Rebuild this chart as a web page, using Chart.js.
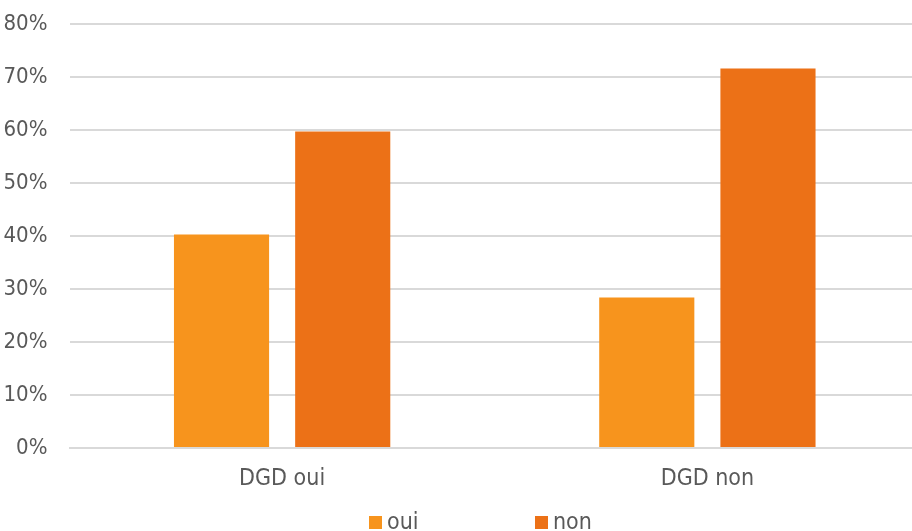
<!DOCTYPE html>
<html lang="fr">
<head>
<meta charset="utf-8">
<title>DGD</title>
<script src="https://cdn.jsdelivr.net/npm/chart.js@4.4.1/dist/chart.umd.min.js"></script>
<style>
  html, body { margin: 0; padding: 0; background: #ffffff; overflow: hidden; }
  #wrap { position: relative; width: 920px; height: 531px; }
</style>
</head>
<body>
<div id="wrap"><canvas id="chart"></canvas></div>
<script>
// Groups on the x axis
const categories = ['DGD oui', 'DGD non'];
// Share of answers per group (percent)
const ouiValues = [40.3, 28.4];
const nonValues = [59.7, 71.6];
// Series names and y-axis ticks
const seriesNames = ['oui', 'non'];
const yTicks = [0, 10, 20, 30, 40, 50, 60, 70, 80];

const FONT = '"DejaVu Sans Condensed", "DejaVu Sans", sans-serif';
const TEXT = '#595959';
const COLORS = ['#F7941D', '#EC7117'];

// Legend drawn under the axis, one square + label per dataset
const bottomLegend = {
  id: 'bottomLegend',
  afterDraw(chart, args, opts) {
    const ctx = chart.ctx;
    ctx.save();
    ctx.font = '23px ' + FONT;
    ctx.textBaseline = 'middle';
    ctx.textAlign = 'left';
    chart.data.datasets.forEach((ds, i) => {
      const x = opts.starts[i];
      ctx.fillStyle = ds.backgroundColor;
      ctx.fillRect(x, opts.y - opts.box / 2, opts.box, opts.box);
      ctx.fillStyle = TEXT;
      ctx.fillText(ds.label, x + opts.box + 5, opts.y + 1);
    });
    ctx.restore();
  }
};

new Chart(document.getElementById('chart'), {
  type: 'bar',
  data: {
    labels: categories,
    datasets: [
      { label: seriesNames[0], data: ouiValues, backgroundColor: COLORS[0] },
      { label: seriesNames[1], data: nonValues, backgroundColor: COLORS[1] }
    ]
  },
  options: {
    responsive: true,
    maintainAspectRatio: false,
    animation: false,
    events: [],
    layout: { padding: { top: 24, left: 0, right: 0, bottom: 0 } },
    categoryPercentage: 0.57,
    barPercentage: 0.785,
    plugins: {
      legend: { display: false },
      tooltip: { enabled: false },
      bottomLegend: { starts: [369, 535], y: 522.5, box: 13 }
    },
    scales: {
      x: {
        grid: { display: false, drawTicks: false },
        border: { color: '#D9D9D9', width: 2 },
        ticks: { color: TEXT, font: { family: FONT, size: 23 }, padding: 17 },
        afterFit(scale) { scale.height = 83; }
      },
      y: {
        min: 0,
        max: 80,
        afterBuildTicks(scale) { scale.ticks = yTicks.map(v => ({ value: v })); },
        grid: { color: '#D9D9D9', lineWidth: 2, drawTicks: false },
        border: { display: false },
        ticks: {
          color: TEXT,
          font: { family: FONT, size: 22 },
          padding: 22,
          callback: v => v + '%'
        },
        afterFit(scale) {
          scale.width = 69.5;
          scale.paddingTop = 0;
          scale.paddingBottom = 0;
        }
      }
    }
  },
  plugins: [bottomLegend]
});
</script>
</body>
</html>
